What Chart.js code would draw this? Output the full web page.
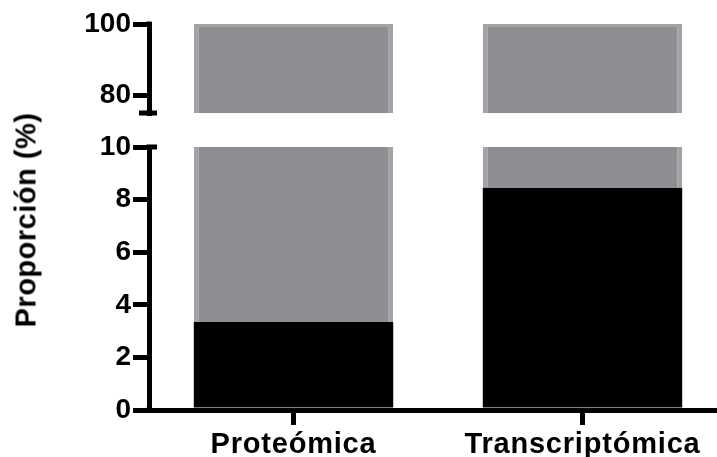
<!DOCTYPE html>
<html><head><meta charset="utf-8">
<script src="https://cdn.jsdelivr.net/npm/chart.js@4.4.1/dist/chart.umd.min.js"></script>
<style>
html,body{margin:0;padding:0;background:#fff;}
#wrap{position:relative;width:717px;height:457px;overflow:hidden;background:#fff;}
canvas{position:absolute;left:0;top:0;}
#ytitle{position:absolute;left:26px;top:220px;transform:translate(-50%,-50%) rotate(-90deg);font:bold 29px "Liberation Sans",Arial,sans-serif;letter-spacing:0.5px;white-space:nowrap;line-height:1;color:#000;}
</style></head><body>
<div id="wrap">
<canvas id="upper" width="727" height="457"></canvas>
<canvas id="lower" width="727" height="457"></canvas>
<div id="ytitle">Proporción (%)</div>
</div>
<script>
// ---- data ----
const categories = ['Proteómica', 'Transcriptómica'];
const proportion = [3.35, 8.45];      // black part (%)
const remainder  = [96.65, 91.55];    // grey part (%)
const lowerTicks = [0, 2, 4, 6, 8, 10];
const upperTicks = [80, 100];

// ---- styles ----
const FONT = '"Liberation Sans", Arial, sans-serif';
const BLACK = '#000000';
const GRAY = 'rgb(142,141,146)';
const GRAY_EDGE = 'rgb(163,162,166)';
const tickFont = {family: FONT, size: 28, weight: 'bold'};
const xFont = {family: FONT, size: 29, weight: 'bold'};

function makeDatasets() {
  return [
    {label: 'Proporción', data: proportion, backgroundColor: BLACK, borderWidth: 0, clip: 0,
     barPercentage: 0.69, categoryPercentage: 1},
    {label: 'Resto', data: remainder, backgroundColor: GRAY, borderColor: GRAY_EDGE,
     borderWidth: {top: 3, left: 5, right: 5, bottom: 0}, borderSkipped: 'start', clip: 0,
     barPercentage: 0.69, categoryPercentage: 1}
  ];
}

const capPlugin = {
  id: 'caps',
  afterDraw(chart, args, opts) {
    const ctx = chart.ctx, a = chart.chartArea;
    ctx.save();
    ctx.fillStyle = '#000';
    if (opts.which === 'upper') {
      ctx.fillRect(a.left - 10, a.bottom - 2.5, 18, 5);
      ctx.fillRect(a.left - 2.5, a.top - 2.5, 5, 5);
    } else {
      ctx.fillRect(a.left - 2.5, a.top - 2.5, 10.5, 5);
      ctx.fillRect(a.left - 2.5, a.bottom - 2.5, 5, 5);
    }
    ctx.restore();
  }
};

const spacingPlugin = {
  id: 'xspacing',
  beforeDraw(chart) {
    const s = chart.scales.x;
    if (s && !s.__sp) {
      const orig = s.drawLabels;
      s.drawLabels = function(area) {
        const c = this.ctx;
        c.save();
        c.letterSpacing = '0.8px';
        orig.call(this, area);
        c.restore();
      };
      s.__sp = true;
    }
  }
};

const yCommon = {
  stacked: true,
  afterFit(s) { s.width = 149; },
  grid: {drawOnChartArea: false, color: BLACK, lineWidth: 5, tickLength: 16, tickColor: BLACK},
  border: {display: true, color: BLACK, width: 5},
  ticks: {color: BLACK, font: tickFont, padding: 2}
};

// upper segment (75 - 100)
new Chart(document.getElementById('upper'), {
  type: 'bar',
  data: {labels: categories, datasets: makeDatasets()},
  plugins: [capPlugin],
  options: {
    responsive: false, animation: false, devicePixelRatio: 1,
    layout: {padding: {top: 24, bottom: 344, left: 0, right: 0}},
    plugins: {legend: {display: false}, tooltip: {enabled: false}, caps: {which: 'upper'}},
    scales: {
      x: {stacked: true, display: false, offset: true},
      y: Object.assign({}, yCommon, {
        min: 75, max: 100,
        afterBuildTicks(s) { s.ticks = upperTicks.map(v => ({value: v})); }
      })
    }
  }
});

// lower segment (0 - 10)
new Chart(document.getElementById('lower'), {
  type: 'bar',
  data: {labels: categories, datasets: makeDatasets()},
  plugins: [capPlugin, spacingPlugin],
  options: {
    responsive: false, animation: false, devicePixelRatio: 1,
    layout: {padding: {top: 147, bottom: 0, left: 0, right: 0}},
    plugins: {legend: {display: false}, tooltip: {enabled: false}, caps: {which: 'lower'}},
    scales: {
      x: {
        stacked: true, offset: true,
        afterFit(s) { s.height = 47; },
        grid: {display: true, drawOnChartArea: false, offset: false, color: BLACK, lineWidth: 5,
               tickLength: 15, tickColor: BLACK, tickWidth: 5},
        border: {display: true, color: BLACK, width: 5},
        ticks: {color: BLACK, font: xFont, padding: 3, maxRotation: 0, autoSkip: false}
      },
      y: Object.assign({}, yCommon, {
        min: 0, max: 10,
        afterBuildTicks(s) { s.ticks = lowerTicks.map(v => ({value: v})); }
      })
    }
  }
});
</script>
</body></html>
